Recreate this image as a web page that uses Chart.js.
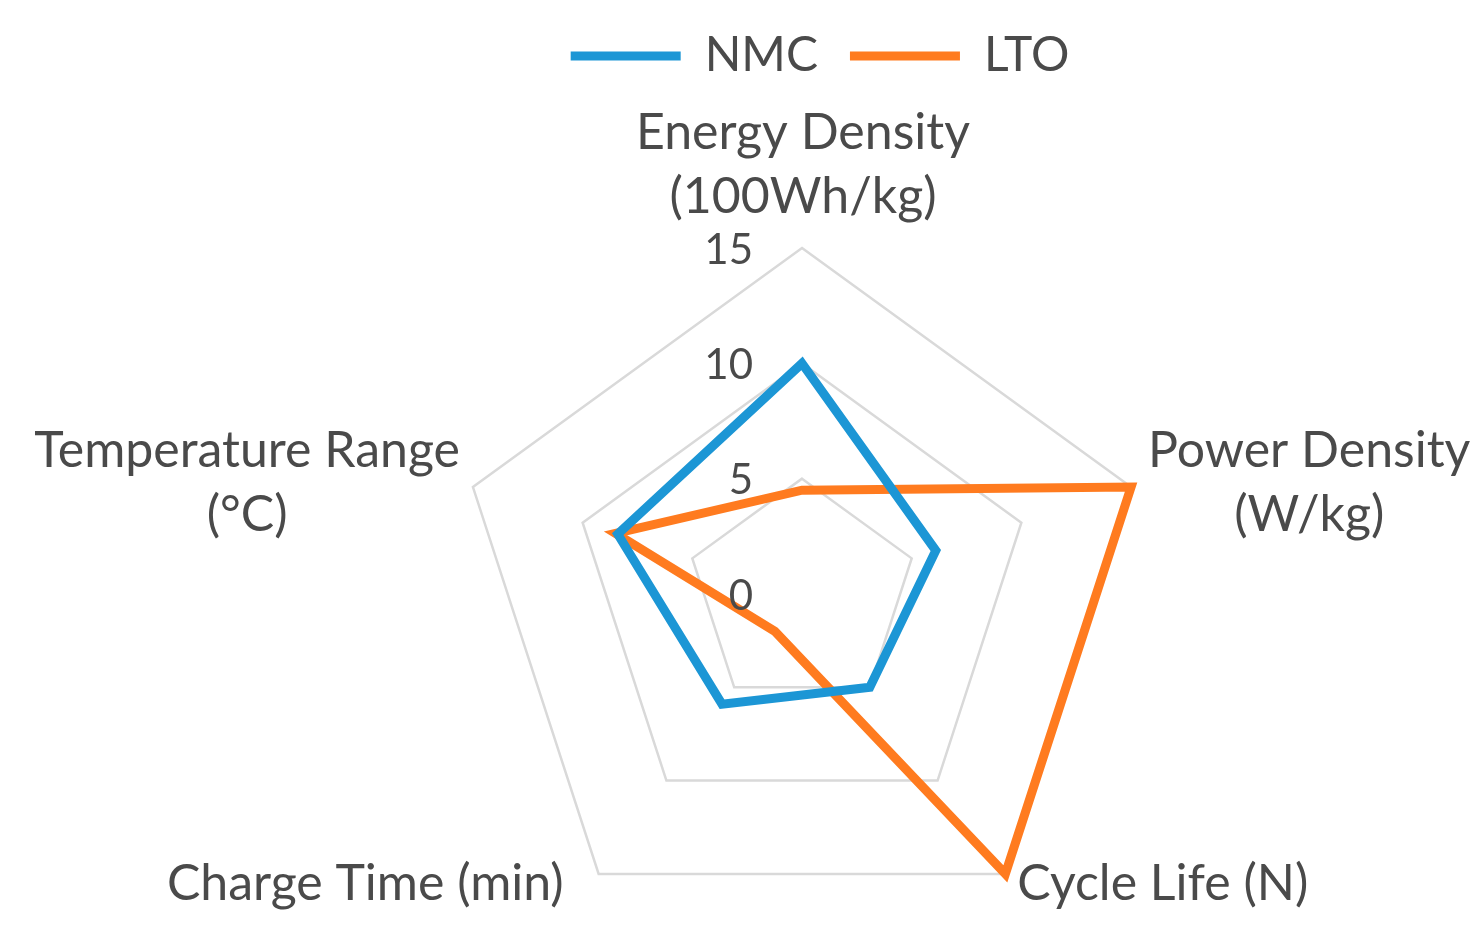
<!DOCTYPE html>
<html lang="en">

<head>
  <meta charset="UTF-8" />
  <title>NMC vs LTO</title>
  <script src="https://cdn.jsdelivr.net/npm/chart.js"></script>
  <style>
    body {
      margin: 0;
      background: #fff;
      overflow: hidden;
    }

    /* visible frame is the window; the chart box runs a bit below it so the
       pentagon centre lands where the original has it */
    #frame {
      width: 1481px;
      height: 931px;
      overflow: hidden;
    }

    #wrap {
      position: relative;
      width: 1481px;
      height: 1099px;
    }
  </style>
</head>

<body>
  <div id="frame">
    <div id="wrap"><canvas id="radar"></canvas></div>
  </div>
  <script>
    // axes and series
    const axisLabels = [
      ['Energy Density', '(100Wh/kg)'],
      ['Power Density', '(W/kg)'],
      'Cycle Life (N)',
      'Charge Time (min)',
      ['Temperature Range', '(°C)']
    ];
    const nmcValues = [10, 6.1, 5, 5.9, 8.4];
    const ltoValues = [4.5, 15, 15, 2, 8.5];
    const tickValues = [0, 5, 10, 15];

    const textColor = '#4a4a4a';
    const fontFamily = 'Lato, "Open Sans", sans-serif';

    // tick numbers sit left of the vertical axis (Excel style)
    const tickLabelPlugin = {
      id: 'tickLabels',
      afterDraw(chart) {
        const scale = chart.scales.r;
        const ctx = chart.ctx;
        ctx.save();
        ctx.font = '42px ' + fontFamily;
        ctx.fillStyle = textColor;
        ctx.textAlign = 'right';
        ctx.textBaseline = 'middle';
        tickValues.forEach(v => {
          const d = scale.getDistanceFromCenterForValue(v);
          ctx.fillText(String(v), scale.xCenter - 49, scale.yCenter - d + 2);
        });
        ctx.restore();
      }
    };

    // axis titles placed around the outer vertices, multi-line ones centred
    const axisTitlePlugin = {
      id: 'axisTitles',
      afterDraw(chart) {
        const scale = chart.scales.r;
        const ctx = chart.ctx;
        const lineGap = 64;
        ctx.save();
        ctx.font = '50px ' + fontFamily;
        ctx.fillStyle = textColor;
        ctx.textBaseline = 'alphabetic';
        ctx.textAlign = 'center';
        axisLabels.forEach((label, i) => {
          const lines = Array.isArray(label) ? label : [label];
          const v = scale.getPointPosition(i, scale.drawingArea);
          const w = Math.max(...lines.map(l => ctx.measureText(l).width));
          let cx, y0;
          if (i === 0) { cx = v.x + 1; y0 = v.y - 35 - lineGap * (lines.length - 1); }
          else if (i === 1) { cx = v.x + 17 + w / 2; y0 = v.y - 20; }
          else if (i === 2) { cx = v.x + 12 + w / 2; y0 = v.y + 26; }
          else if (i === 3) { cx = v.x - 35 - w / 2; y0 = v.y + 26; }
          else { cx = v.x - 13 - w / 2; y0 = v.y - 20; }
          lines.forEach((l, k) => ctx.fillText(l, cx, y0 + k * lineGap));
        });
        ctx.restore();
      }
    };

    // the original legend sits a little right of the pentagon axis
    const legendShiftPlugin = {
      id: 'legendShift',
      afterLayout(chart) {
        chart.legend.left += 18;
        chart.legend.right += 18;
      }
    };

    new Chart(document.getElementById('radar'), {
      type: 'radar',
      data: {
        labels: axisLabels,
        datasets: [
          {
            label: 'NMC',
            data: nmcValues,
            borderColor: '#1c96d5',
            backgroundColor: '#1c96d5',
            borderWidth: 9,
            borderJoinStyle: 'miter',
            borderCapStyle: 'round',
            pointRadius: 0,
            fill: false
          },
          {
            label: 'LTO',
            data: ltoValues,
            borderColor: '#ff7b1f',
            backgroundColor: '#ff7b1f',
            borderWidth: 9,
            borderJoinStyle: 'miter',
            borderCapStyle: 'round',
            pointRadius: 0,
            fill: false
          }
        ]
      },
      options: {
        responsive: true,
        maintainAspectRatio: false,
        animation: false,
        // the chart area width fixes the radius
        layout: { padding: { left: 456, right: 333, top: 0, bottom: 0 } },
        scales: {
          r: {
            min: 0,
            max: 15,
            ticks: { stepSize: 5, display: false },
            grid: { color: '#d9d9d9', lineWidth: 2.5 },
            angleLines: { display: false },
            pointLabels: { display: false }
          }
        },
        plugins: {
          legend: {
            position: 'top',
            labels: {
              usePointStyle: true,
              pointStyle: 'line',
              pointStyleWidth: 110,
              color: textColor,
              font: { family: fontFamily, size: 48 },
              padding: 32
            }
          },
          tooltip: { enabled: false }
        }
      },
      plugins: [tickLabelPlugin, axisTitlePlugin, legendShiftPlugin]
    });
  </script>
</body>

</html>
